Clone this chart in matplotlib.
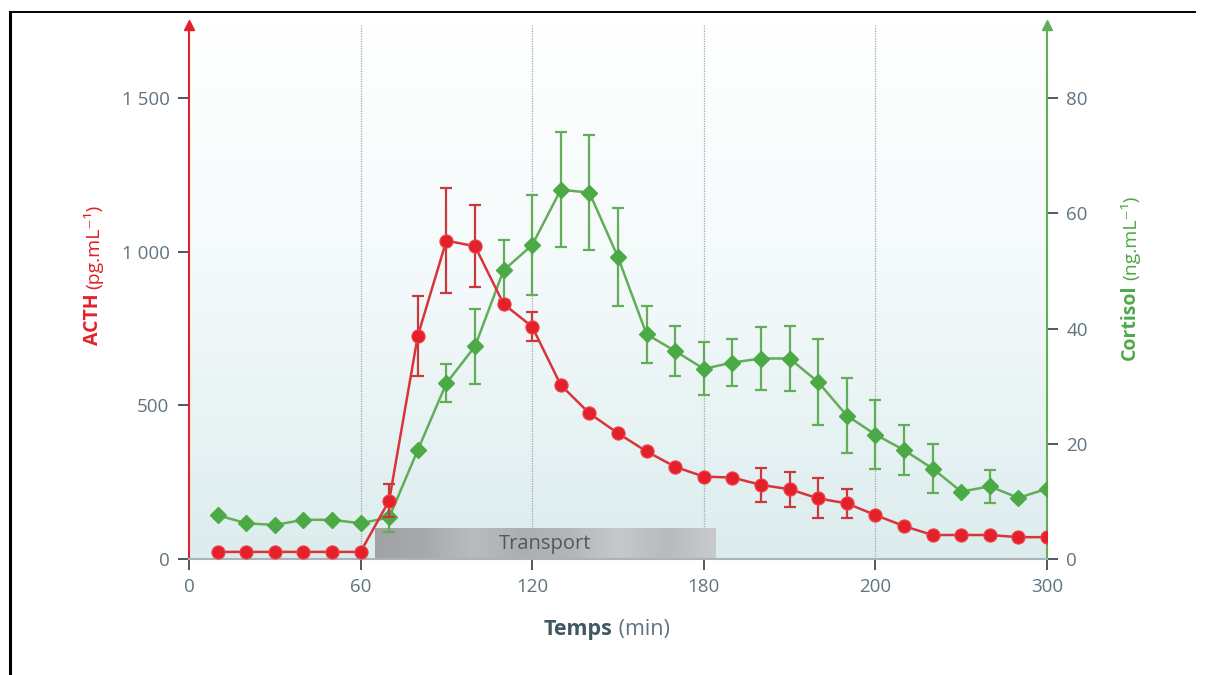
import numpy as np
import matplotlib.pyplot as plt
from matplotlib.colors import LinearSegmentedColormap
from matplotlib.lines import Line2D

plt.rcParams['font.family'] = ['Open Sans', 'DejaVu Sans']

# temps (min)
temps = [10, 20, 30, 40, 50, 60, 70, 80, 90, 100, 110, 120, 130, 140, 150,
         160, 170, 180, 190, 200, 210, 220, 230, 240, 250, 260, 270, 280, 290, 300]

# ACTH (pg/mL)
acth = [23, 23, 23, 23, 23, 23, 190, 726, 1036, 1018, 830, 756, 566, 474, 409,
        350, 300, 268, 265, 241, 227, 197, 181, 143, 107, 78, 78, 78, 71, 71]
acth_err = [0, 0, 0, 0, 0, 0, 55, 130, 170, 133, 0, 48, 0, 0, 0,
            0, 0, 0, 0, 56, 57, 65, 48, 0, 0, 0, 0, 0, 0, 0]

# Cortisol (ng/mL)
cortisol = [7.6, 6.2, 5.9, 6.8, 6.8, 6.2, 7.2, 18.9, 30.5, 36.9, 50.1, 54.5, 64.1, 63.6, 52.4,
            39.0, 36.1, 33.0, 34.1, 34.8, 34.8, 30.7, 24.9, 21.6, 18.9, 15.7, 11.7, 12.6, 10.6, 12.2]
cortisol_err = [0, 0, 0, 0, 0, 0, 2.5, 0, 3.3, 6.5, 5.2, 8.6, 10, 10, 8.5,
                5, 4.3, 4.6, 4, 5.4, 5.7, 7.5, 6.5, 6, 4.3, 4.3, 0, 2.9, 0, 0]

transport = (65, 184)
xticks = [0, 60, 120, 180, 240, 300]
xtick_labels = ['0', '60', '120', '180', '200', '300']

RED = '#e4202a'
RED_LINE = '#d8343a'
GREEN = '#4caa46'
GREEN_LINE = '#62ae58'
TICK = '#5f7480'

fig = plt.figure(figsize=(12.05, 6.75), dpi=100)
pos = [0.1568, 0.1719, 0.7121, 0.7911]

# axe de fond : dégradé, grille, barre transport
bg_ax = fig.add_axes(pos)
bg_ax.axis('off')
bg = LinearSegmentedColormap.from_list('bg', ['#ffffff', '#f3f9fa', '#dceced'])
bg_ax.imshow(np.linspace(0, 1, 256).reshape(-1, 1), extent=(0, 300, 0, 1738),
             aspect='auto', cmap=bg, origin='upper', zorder=0)
for x in [60, 120, 180, 240]:
    bg_ax.axvline(x, color='#a0a8b0', lw=0.9, ls=(0, (1, 1)), zorder=1)
tr = LinearSegmentedColormap.from_list('tr', ['#a0a2a4', '#a7a9ab', '#b9bbbd', '#acaeb0',
                                              '#b4b6b8', '#c6c8ca', '#b8babc', '#c8cacc'])
bg_ax.imshow(np.linspace(0, 1, 256).reshape(1, -1), extent=(transport[0], transport[1], 0, 100),
             aspect='auto', cmap=tr, zorder=2)
bg_ax.text((transport[0] + transport[1]) / 2, 50, 'Transport', ha='center', va='center',
           fontsize=14.5, color='#55585b', zorder=3)
bg_ax.set_xlim(0, 300)
bg_ax.set_ylim(0, 1738)

# axe cortisol (droite)
ax2 = fig.add_axes(pos)
ax2.patch.set_visible(False)
ax2.set_xlim(0, 300)
ax2.set_ylim(0, 92.7)
ax2.yaxis.tick_right()

# axe ACTH (gauche), au premier plan
ax = fig.add_axes(pos)
ax.patch.set_visible(False)
ax.set_xlim(0, 300)
ax.set_ylim(0, 1738)

t = np.array(temps)
a = np.array(acth)
ae = np.array(acth_err)
c = np.array(cortisol)
ce = np.array(cortisol_err)

m = ce > 0
ax2.errorbar(t[m], c[m], yerr=ce[m], fmt='none', ecolor=GREEN_LINE, elinewidth=1.6,
             capsize=4.5, capthick=1.6, zorder=3)
ax2.plot(t, c, color=GREEN_LINE, lw=1.8, marker='D', markersize=8.5,
         markerfacecolor=GREEN, markeredgecolor=GREEN, zorder=4)

m = ae > 0
ax.errorbar(t[m], a[m], yerr=ae[m], fmt='none', ecolor='#c8383c', elinewidth=1.6,
            capsize=4.5, capthick=1.6, zorder=5)
ax.plot(t, a, color=RED_LINE, lw=1.8, marker='o', markersize=9.5,
        markerfacecolor=RED, markeredgecolor='#f0464c', markeredgewidth=0.8, zorder=6)

# axes
for s in ['top', 'right']:
    ax.spines[s].set_visible(False)
for s in ['top', 'left', 'bottom']:
    ax2.spines[s].set_visible(False)
ax.spines['left'].set_color(RED)
ax.spines['left'].set_linewidth(1.5)
ax2.spines['right'].set_color(GREEN_LINE)
ax2.spines['right'].set_linewidth(1.5)
ax.spines['bottom'].set_color('#a8b4ba')
ax.spines['bottom'].set_linewidth(1.5)

ax.plot(0, 1, marker='^', color=RED, markersize=7, transform=ax.transAxes, clip_on=False, zorder=7)
ax2.plot(1, 1, marker='^', color=GREEN_LINE, markersize=7, transform=ax2.transAxes, clip_on=False)

ax.set_xticks(xticks)
ax.set_xticklabels(xtick_labels)
ax.set_yticks([0, 500, 1000, 1500])
ax.set_yticklabels(['0', '500', '1 000', '1 500'])
ax2.set_xticks([])
ax2.set_yticks([0, 20, 40, 60, 80])
ax.tick_params(axis='both', colors='#4a5a62', labelcolor=TICK, labelsize=13.5, length=8, width=1.4, pad=6)
ax2.tick_params(axis='y', colors='#4a5a62', labelcolor=TICK, labelsize=13.5, length=8, width=1.4, pad=6)

# titres d'axes
fig.text(0.5085, 0.068, 'Temps', ha='right', va='center', fontsize=15.5,
         fontweight='bold', color='#3f5862')
fig.text(0.5085, 0.068, ' (min)', ha='left', va='center', fontsize=15.5, color='#5f7480')

fig.text(0.077, 0.565, 'ACTH', rotation=90, ha='center', va='top', fontsize=14,
         fontweight='bold', color=RED)
fig.text(0.077, 0.572, '(pg.mL\u207b\u00b9)', rotation=90, ha='center', va='bottom',
         fontsize=14, color=RED)

fig.text(0.938, 0.578, 'Cortisol', rotation=90, ha='center', va='top', fontsize=14,
         fontweight='bold', color=GREEN)
fig.text(0.938, 0.585, '(ng.mL\u207b\u00b9)', rotation=90, ha='center', va='bottom',
         fontsize=14, color=GREEN)

# cadre
fig.add_artist(Line2D([0.0083, 0.0083], [0, 0.982], color='black', lw=2.2, transform=fig.transFigure))
fig.add_artist(Line2D([0.0083, 0.992], [0.982, 0.982], color='black', lw=1.4, transform=fig.transFigure))

fig.savefig('out.png', dpi=100)
